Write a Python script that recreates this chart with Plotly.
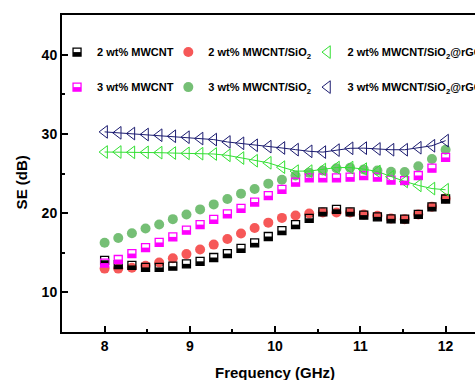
import plotly.graph_objects as go

freq = [8.00, 8.16, 8.32, 8.48, 8.64, 8.80, 8.96, 9.12, 9.28, 9.44, 9.60, 9.76, 9.92,
        10.08, 10.24, 10.40, 10.56, 10.72, 10.88, 11.04, 11.20, 11.36, 11.52, 11.68, 11.84, 12.00]

se_2_mwcnt = [14.05, 13.5, 13.4, 13.15, 13.15, 13.3, 13.6, 13.92, 14.4, 14.9, 15.55, 16.25, 17.05,
              17.8, 18.55, 19.35, 20.17, 20.48, 20.17, 19.75, 19.53, 19.28, 19.24, 19.85, 20.8, 21.78]
se_3_mwcnt = [13.7, 14.15, 14.9, 15.65, 16.3, 17.0, 17.85, 18.55, 19.2, 19.9, 20.6, 21.4, 22.2,
              23.0, 23.9, 24.45, 24.45, 24.45, 24.55, 24.72, 24.55, 24.17, 24.1, 24.75, 25.67, 27.03]
se_2_sio2 = [13.0, 13.0, 13.1, 13.35, 13.77, 14.3, 14.83, 15.42, 16.03, 16.74, 17.42, 18.13, 18.8,
             19.4, 19.7, 19.95, 20.08, 20.08, 20.08, 19.82, 19.66, 19.32, 19.24, 19.82, 20.8, 21.86]
se_3_sio2 = [16.27, 16.86, 17.46, 18.05, 18.56, 19.24, 19.83, 20.47, 21.1, 21.78, 22.46, 23.05, 23.72,
             24.22, 24.75, 25.1, 25.37, 25.67, 25.72, 25.52, 25.37, 25.23, 25.2, 25.92, 26.84, 28.0]
se_2_rgo = [27.71, 27.71, 27.67, 27.67, 27.63, 27.58, 27.54, 27.5, 27.46, 27.29, 26.95, 26.61, 26.35,
            25.8, 25.3, 25.3, 25.5, 25.75, 25.75, 25.55, 25.25, 24.6, 24.0, 23.5, 23.1, 22.95]
se_3_rgo = [30.25, 30.13, 30.04, 29.92, 29.83, 29.7, 29.58, 29.41, 29.28, 28.98, 28.81, 28.56, 28.39,
            28.22, 28.01, 27.8, 27.7, 27.95, 28.18, 28.2, 28.1, 28.0, 28.0, 28.25, 28.5, 29.15]

names = ["2 wt% MWCNT", "2 wt% MWCNT/SiO<sub>2</sub>", "2 wt% MWCNT/SiO<sub>2</sub>@rGO",
         "3 wt% MWCNT", "3 wt% MWCNT/SiO<sub>2</sub>", "3 wt% MWCNT/SiO<sub>2</sub>@rGO"]

x_ticks = [8, 9, 10, 11, 12]
y_ticks = [10, 20, 30, 40]
x_title = "Frequency (GHz)"
y_title = "SE (dB)"

BLACK = "#000000"
MAGENTA = "#ff00ff"
RED = "#f53b3b"
GREEN_C = "#66b866"
GREEN_T = "#33e033"
NAVY = "#1c1c70"

# legend grid (paper coords of each legend box's left edge / vertical centre)
col_x = [-0.012, 0.2574, 0.5944]
row_y = [0.883, 0.7725]
PLOT_W = 413  # px width of plotting area

fig = go.Figure()

fig.add_trace(go.Scatter(x=freq, y=se_3_sio2, mode="markers", name=names[4], legend="legend5",
                         marker=dict(symbol="circle", size=10, color=GREEN_C, opacity=0.9)))
fig.add_trace(go.Scatter(x=freq, y=se_2_sio2, mode="markers", name=names[1], legend="legend2",
                         marker=dict(symbol="circle", size=10, color=RED, opacity=0.85)))

# half-filled squares: open square marker + lower-half fill drawn as pixel-sized shapes
sq_series = [(se_2_mwcnt, BLACK, names[0], "legend", 0), (se_3_mwcnt, MAGENTA, names[3], "legend4", 1)]
for ys, col, nm, lg, row in sq_series:
    fig.add_trace(go.Scatter(x=freq, y=ys, mode="markers", name=nm, legend=lg,
                             marker=dict(symbol="square-open", size=8, color=col,
                                         line=dict(color=col, width=1.3))))
    for xv, yv in zip(freq, ys):
        fig.add_shape(type="rect", xref="x", yref="y", xsizemode="pixel", ysizemode="pixel",
                      xanchor=xv, yanchor=yv, x0=-4, x1=4, y0=-4, y1=0,
                      fillcolor=col, line=dict(width=0), layer="above")
    # matching lower-half fill on the legend key
    fig.add_shape(type="rect", xref="paper", yref="paper", xsizemode="pixel", ysizemode="pixel",
                  xanchor=col_x[0] + 20 / PLOT_W, yanchor=row_y[row], x0=-4, x1=4, y0=-4, y1=0,
                  fillcolor=col, line=dict(width=0), layer="above")

for ys, col, nm, lg in [(se_2_rgo, GREEN_T, names[2], "legend3"), (se_3_rgo, NAVY, names[5], "legend6")]:
    fig.add_trace(go.Scatter(x=freq, y=ys, mode="lines", line=dict(color=col, width=1),
                             showlegend=False, hoverinfo="skip"))
    fig.add_trace(go.Scatter(x=freq, y=ys, mode="markers", name=nm, legend=lg,
                             marker=dict(symbol="triangle-left-open", size=11, color=col,
                                         line=dict(color=col, width=1))))

leg_font = dict(family="Liberation Sans, Arial, sans-serif", size=11, color="black", weight="bold")
legend_cfg = {}
keys = ["legend", "legend2", "legend3", "legend4", "legend5", "legend6"]
for i, k in enumerate(keys):
    legend_cfg[k] = dict(x=col_x[i % 3], y=row_y[i // 3], xanchor="left", yanchor="middle",
                         bgcolor="rgba(0,0,0,0)", borderwidth=0, font=leg_font)

fig.update_layout(
    width=475, height=380,
    margin=dict(l=62, r=0, t=15, b=48, autoexpand=False),
    paper_bgcolor="white", plot_bgcolor="white",
    font=dict(family="Liberation Sans, Arial, sans-serif", size=14, color="black", weight="bold"),
    **legend_cfg,
)

fig.add_annotation(text=y_title, textangle=-90, xref="paper", yref="paper", x=0, y=0.472,
                   xanchor="center", yanchor="middle", xshift=-41, showarrow=False,
                   font=dict(size=15, weight="bold"))
fig.add_annotation(text=x_title, xref="x", yref="paper", x=10.0, y=0,
                   xanchor="center", yanchor="middle", yshift=-40, showarrow=False,
                   font=dict(size=15, weight="bold"))

fig.update_xaxes(range=[7.5, 12.345], tickvals=x_ticks, ticks="inside", ticklen=6, tickwidth=2,
                 tickcolor="black", showline=True, linewidth=2, linecolor="black", mirror=True,
                 showgrid=False, zeroline=False,
                 minor=dict(dtick=0.5, tick0=7.5, ticks="inside", ticklen=3, tickwidth=2, tickcolor="black"),
                 tickfont=dict(size=14))
fig.update_yaxes(range=[5, 45], tickvals=y_ticks, ticks="inside", ticklen=6, tickwidth=2,
                 tickcolor="black", showline=True, linewidth=2, linecolor="black", mirror=False,
                 showgrid=False, zeroline=False,
                 minor=dict(dtick=5, tick0=0, ticks="inside", ticklen=3, tickwidth=2, tickcolor="black"),
                 tickfont=dict(size=14))

fig.write_html("out.html")
